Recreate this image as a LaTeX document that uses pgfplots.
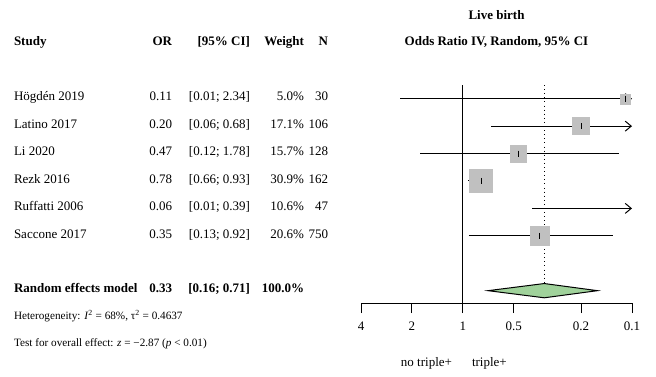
\documentclass[border=0pt]{standalone}
\usepackage{fontspec}
\setmainfont{Liberation Serif}
\usepackage{pgfplots}
\pgfplotsset{compat=1.18}
\usetikzlibrary{arrows.meta}
\definecolor{sqgray}{RGB}{192,192,192}
\definecolor{dgreen}{RGB}{160,210,155}
\newcommand{\fs}{\fontsize{13}{15}\selectfont}
\newcommand{\fss}{\fontsize{11.2}{13}\selectfont}
\begin{document}
\begin{tikzpicture}[t/.style={inner sep=0pt, outer sep=0pt}]
\useasboundingbox (0,0) rectangle (656pt,376pt);
\begin{axis}[
  at={(496.5pt,182pt)}, anchor=center,
  width=271pt, height=218pt, scale only axis,
  xmode=log, x dir=reverse, xmin=0.1, xmax=4,
  ymin=0.5, ymax=8.45, y dir=reverse,
  axis y line=none, axis x line=bottom,
  axis line style={-, line width=1pt, black},
  xtick={0.1,0.2,0.5,1,2,4}, xticklabels={0.1,0.2,0.5,1,2,4},
  minor xtick={},
  xtick align=outside, major tick length=10pt,
  every tick/.style={line width=1pt, black},
  xticklabel style={font=\fs, yshift=-5pt},
  /pgf/number format/assume math mode=true,
  clip=false,
]
% squares
\addplot[only marks, mark=square*, color=sqgray, mark size=5pt] coordinates {(0.11,1)};
\addplot[only marks, mark=square*, color=sqgray, mark size=8.5pt] coordinates {(0.20,2)};
\addplot[only marks, mark=square*, color=sqgray, mark size=8.2pt] coordinates {(0.47,3)};
\addplot[only marks, mark=square*, color=sqgray, mark size=11.5pt] coordinates {(0.78,4)};
\addplot[only marks, mark=square*, color=sqgray, mark size=9.4pt] coordinates {(0.35,6)};
% reference lines
\addplot[black, line width=1pt] coordinates {(1,0.5) (1,8.45)};
\addplot[black, line width=1pt, dash pattern=on 0.9pt off 3.2pt] coordinates {(0.33,0.5) (0.33,7.74)};
% confidence intervals
\addplot[black, line width=1pt, -{Straight Barb[length=6pt,width=10pt]}] coordinates {(2.34,1) (0.1,1)};
\addplot[black, line width=1pt, -{Straight Barb[length=6pt,width=10pt]}] coordinates {(0.68,2) (0.1,2)};
\addplot[black, line width=1pt] coordinates {(1.78,3) (0.12,3)};
\addplot[black, line width=1pt] coordinates {(0.93,4) (0.66,4)};
\addplot[black, line width=1pt, -{Straight Barb[length=6pt,width=10pt]}] coordinates {(0.39,5) (0.1,5)};
\addplot[black, line width=1pt] coordinates {(0.92,6) (0.13,6)};
% point estimates
\addplot[only marks, mark=|, mark size=3pt, black, line width=1pt] coordinates {(0.11,1) (0.20,2) (0.47,3) (0.78,4) (0.35,6)};
% diamond
\addplot[fill=dgreen, draw=black, line width=1pt] coordinates {(0.71,8) (0.33,7.74) (0.16,8) (0.33,8.26)} -- cycle;
\end{axis}
% titles
\node[t, anchor=mid, font=\fs\bfseries] at (496.5pt,359pt) {Live birth};
\node[t, anchor=mid, font=\fs\bfseries] at (496.5pt,333pt) {Odds Ratio IV, Random, 95\% CI};
% headers
\node[t, anchor=mid west, font=\fs\bfseries] at (14pt,333pt) {Study};
\node[t, anchor=mid east, font=\fs\bfseries] at (172pt,333pt) {OR};
\node[t, anchor=mid east, font=\fs\bfseries] at (250pt,333pt) {[95\% CI]};
\node[t, anchor=mid east, font=\fs\bfseries] at (304pt,333pt) {Weight};
\node[t, anchor=mid east, font=\fs\bfseries] at (328pt,333pt) {N};
% rows
\foreach \yy/\st/\orv/\ci/\w/\n in {
  277.3/Högdén 2019/0.11/{[0.01; 2.34]}/5.0\%/30,
  249.9/Latino 2017/0.20/{[0.06; 0.68]}/17.1\%/106,
  222.5/Li 2020/0.47/{[0.12; 1.78]}/15.7\%/128,
  195.0/Rezk 2016/0.78/{[0.66; 0.93]}/30.9\%/162,
  167.6/Ruffatti 2006/0.06/{[0.01; 0.39]}/10.6\%/47,
  140.2/Saccone 2017/0.35/{[0.13; 0.92]}/20.6\%/750}{
  \node[t, anchor=mid west, font=\fs] at (14pt,\yy pt) {\st};
  \node[t, anchor=mid east, font=\fs] at (172pt,\yy pt) {\orv};
  \node[t, anchor=mid east, font=\fs] at (250pt,\yy pt) {\ci};
  \node[t, anchor=mid east, font=\fs] at (304pt,\yy pt) {\w};
  \node[t, anchor=mid east, font=\fs] at (328pt,\yy pt) {\n};
}
% random effects row
\node[t, anchor=mid west, font=\fs\bfseries] at (14pt,85.3pt) {Random effects model};
\node[t, anchor=mid east, font=\fs\bfseries] at (172pt,85.3pt) {0.33};
\node[t, anchor=mid east, font=\fs\bfseries] at (250pt,85.3pt) {[0.16; 0.71]};
\node[t, anchor=mid east, font=\fs\bfseries] at (304pt,85.3pt) {100.0\%};
% heterogeneity
\node[t, anchor=mid west, font=\fss] at (14pt,59pt) {Heterogeneity: \textit{I}\textsuperscript{2} = 68\%, τ\textsuperscript{2} = 0.4637};
\node[t, anchor=mid west, font=\fss] at (14pt,32pt) {Test for overall effect: \textit{z} = −2.87 (\textit{p} < 0.01)};
% direction labels
\node[t, anchor=mid east, font=\fs] at (452pt,12pt) {no triple+};
\node[t, anchor=mid west, font=\fs] at (472pt,12pt) {triple+};
\end{tikzpicture}
\end{document}
